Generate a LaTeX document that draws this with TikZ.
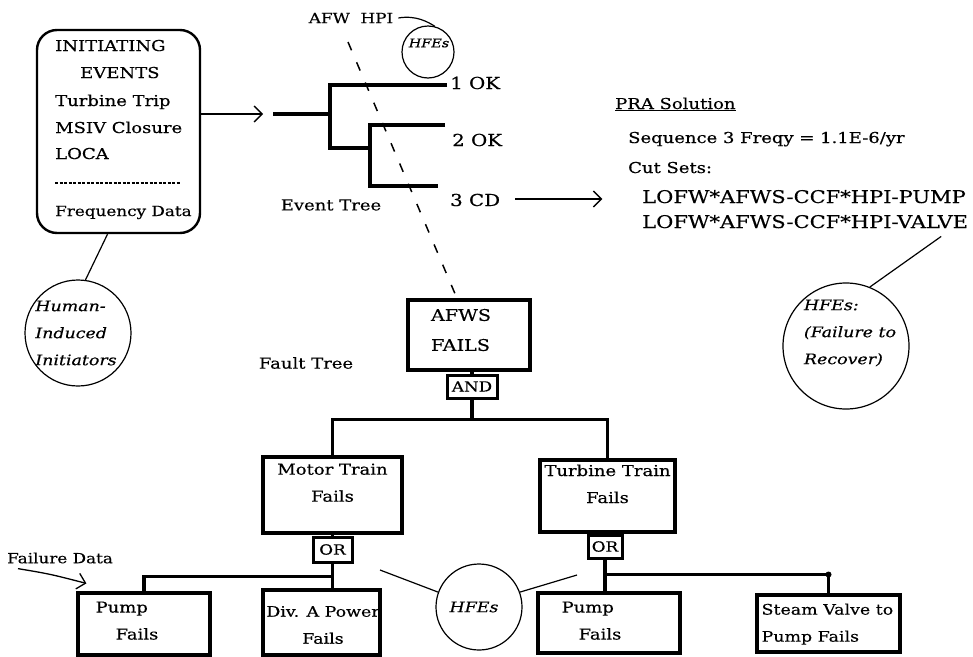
\documentclass[tikz,border=0pt]{standalone}
\usepackage{fontspec}
\setmainfont{DejaVu Serif}[FakeStretch=1.2,FakeBold=0.4]
\usetikzlibrary{arrows.meta,positioning}
\tikzset{
  txt/.style={inner sep=0pt,font=\fontsize{15}{27}\selectfont},
  big/.style={inner sep=0pt,font=\fontsize{16.5}{27}\selectfont},
  small/.style={inner sep=0pt,font=\fontsize{14}{16}\selectfont},
  hfetxt/.style={inner sep=0pt,align=left,font=\fontsize{14.5}{27}\selectfont\itshape},
  iebox/.style={draw,line width=2.4pt,rounded corners=20pt,inner sep=0pt},
  ftbox/.style={draw,line width=3.2pt,inner sep=0pt},
  gate/.style={draw,line width=3pt,inner sep=0pt,font=\fontsize{14}{15}\selectfont},
  hfe/.style={circle,draw,line width=1.2pt,inner sep=0pt},
  branch/.style={line width=3.6pt},
  wire/.style={line width=3.6pt},
  lead/.style={line width=1.2pt},
  barb/.style={-{Straight Barb[length=8pt,width=16pt]},line width=1.3pt},
  trace/.style={dash pattern=on 9pt off 13pt,line width=1.5pt},
}
\begin{document}
\begin{tikzpicture}[x=1pt,y=-1pt]
  \useasboundingbox (0,0) rectangle (973,656);
  % initiating events
  \node[iebox,minimum width=163pt,minimum height=203pt] (ie) at (118.5,131.5) {};
  \node[txt,anchor=base west] (ie1) at (55,51) {INITIATING};
  \node[txt,anchor=base west] (ie2) at (80,78) {EVENTS};
  \node[txt,anchor=base west] (ie3) at (55,106) {Turbine Trip};
  \node[txt,anchor=base west] (ie4) at (55,133) {MSIV Closure};
  \node[txt,anchor=base west] (ie5) at (55,159) {LOCA};
  \draw[dash pattern=on 3pt off 1.5pt,line width=1.2pt] (55,183) -- (180,183);
  \node[txt,anchor=base west,font=\fontsize{14}{27}\selectfont] (ie6) at (55,216) {Frequency Data};
  \node[hfe,minimum size=106pt] (hum) at (78,333) {};
  \node[hfetxt] (humt) at (76,333) {Human-\\Induced\\Initiators};
  \draw[lead] ([xshift=-11pt]ie.south) -- (hum.82);
  % event tree
  \coordinate (et0) at (273,114);
  \coordinate (n1) at (330,114);
  \coordinate (n2) at (370,148);
  \coordinate (e1) at (447,85);
  \coordinate (e2) at (445,125);
  \coordinate (e3) at (438,186);
  \draw[barb] (ie.east |- et0) -- ([xshift=-10pt]et0);
  \draw[branch] (et0) -- (n1) (e1) -| (n1) |- (n2) (e2) -| (n2) |- (e3);
  \node[big,anchor=base west] (o1) at (450,89) {1 OK};
  \node[big,anchor=base west] (o2) at (452,146) {2 OK};
  \node[big,anchor=base west] (o3) at (450,206) {3 CD};
  \node[txt] (etl) at (331,205) {Event Tree};
  \node[small] (afw) at (351,18) {AFW\ \ HPI};
  \node[hfe,minimum size=52pt] (hfe1) at (428,52) {};
  \node[hfetxt,font=\fontsize{12}{13}\selectfont\itshape] (hfe1t) at (429,43) {HFEs};
  \draw[lead] ([xshift=5pt]afw.east) .. controls (416,15) and (428,22) .. (hfe1.75);
  \coordinate (tr0) at (348,42);
  % PRA solution
  \draw[barb] ([xshift=15pt,yshift=1pt]o3.east) -- ++(87,0);
  \node[txt,anchor=base west] (pra) at (615,109) {\underline{PRA Solution}};
  \node[txt,anchor=base west] (seq) at (628,143) {Sequence 3 Freqy = 1.1E-6/yr};
  \node[txt,anchor=base west] (cut) at (628,173) {Cut Sets:};
  \node[txt,anchor=base west,font=\fontsize{17.5}{27}\selectfont] (cs1) at (642,203) {LOFW*AFWS-CCF*HPI-PUMP};
  \node[txt,anchor=base west,font=\fontsize{17.5}{27}\selectfont] (cs2) at (642,228) {LOFW*AFWS-CCF*HPI-VALVE};
  \node[hfe,minimum size=126pt] (hfe2) at (846,346) {};
  \node[hfetxt] (hfe2t) at (850,333) {HFEs:\\(Failure to\\Recover)};
  \draw[lead] ([xshift=-27pt,yshift=-8pt]cs2.south east) -- (hfe2.68);
  % fault tree
  \node[txt] (ftl) at (306,363) {Fault Tree};
  \node[ftbox,minimum width=122pt,minimum height=70pt] (afws) at (469,335) {};
  \node[txt,align=left,font=\fontsize{16}{30}\selectfont] (afwst) at (461,330) {AFWS\\FAILS};
  \draw[trace] (tr0) -- ([xshift=-12pt]afws.north);
  \node[gate,minimum width=50pt,minimum height=23pt] (and) at (472,386.5) {AND};
  \draw[wire] (and.north) -- (and.north |- afws.south);
  \node[ftbox,minimum width=139pt,minimum height=76pt] (mtr) at (332.5,495) {};
  \node[txt,align=center,below=8pt of mtr.north] (mtrt) {Motor Train\\Fails};
  \node[ftbox,minimum width=135pt,minimum height=72pt] (trn) at (607.5,496) {};
  \node[txt,align=center,below=6pt of trn.north] (trnt) {Turbine Train\\Fails};
  \draw[wire] (and.south) -- ++(0,20) coordinate (fk1);
  \draw[wire] (mtr.north) |- (fk1) -| (trn.north);
  \node[gate,minimum width=39pt,minimum height=25pt] (mor) at (332.5,549.5) {OR};
  \node[gate,minimum width=34pt,minimum height=23pt] (tor) at (605,546.5) {OR};
  \draw[wire] (mor.north) -- (mor.north |- mtr.south);
  \draw[wire] (tor.north) -- (tor.north |- trn.south);
  % basic events
  \node[ftbox,minimum width=132pt,minimum height=62pt] (pl) at (144,624) {};
  \node[txt,align=left,anchor=north west] (plt) at ([xshift=19pt,yshift=-10pt]pl.north west) {Pump\\\hspace*{20pt}Fails};
  \node[ftbox,minimum width=117pt,minimum height=65pt] (dva) at (321.5,622.5) {};
  \node[txt,align=center,font=\fontsize{14.5}{27}\selectfont] (dvat) at (323,625) {Div. A Power\\Fails};
  \node[ftbox,minimum width=142pt,minimum height=60pt] (pr) at (609,623) {};
  \node[txt,align=left,anchor=north west] (prt) at ([xshift=25pt,yshift=-10pt]pr.north west) {Pump\\\hspace*{17pt}Fails};
  \node[ftbox,minimum width=143pt,minimum height=57pt] (sv) at (828.5,623.5) {};
  \node[txt,align=left,anchor=north west,font=\fontsize{14.5}{27}\selectfont] (svt) at ([xshift=6pt,yshift=-10pt]sv.north west) {Steam Valve to\\Pump Fails};
  \draw[wire] (mor.south) -- ++(0,13) coordinate (fk2) -- (fk2 |- dva.north);
  \draw[wire] (fk2) -| (pl.north);
  \draw[wire] (tor.south) -- ++(0,15) coordinate (fk3) -- (fk3 |- pr.north);
  \draw[wire] (fk3) -| (sv.north);
  \fill (fk3 -| sv.north) circle (3pt);
  \node[txt,anchor=west,font=\fontsize{14}{27}\selectfont] (fd) at (7,558) {Failure Data};
  \draw[barb] ([xshift=11pt,yshift=-5pt]fd.south west) .. controls (50,574) .. ([xshift=10pt,yshift=8pt]pl.north west);
  \node[hfe,minimum size=86pt] (hfe3) at (479,607) {};
  \node[hfetxt] (hfe3t) at (474,607) {HFEs};
  \coordinate (h3a) at (380,570);
  \coordinate (h3b) at (577,575);
  \draw[lead] (h3a) -- (hfe3.160);
  \draw[lead] (hfe3.20) -- (h3b);
\end{tikzpicture}
\end{document}
